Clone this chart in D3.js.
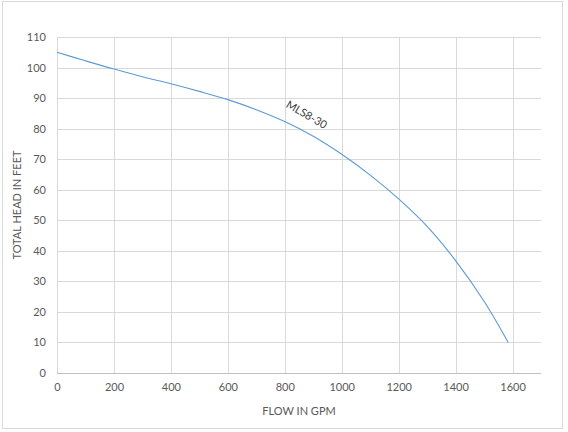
<!DOCTYPE html>
<html>
<head>
<meta charset="utf-8">
<script src="https://cdn.jsdelivr.net/npm/d3@7"></script>
<style>
  body { margin: 0; background: #fff; }
  text { font-family: Lato, "Open Sans", sans-serif; fill: #595959; }
  .grid line { stroke: #d9d9d9; stroke-width: 1; shape-rendering: crispEdges; }
</style>
</head>
<body>
<script>
// pump curve MLS8-30
var flow = [0, 100, 200, 300, 400, 500, 600, 700, 800, 900, 1000, 1100, 1200, 1300, 1400, 1500, 1585];
var head = [105, 102.2, 99.5, 97, 94.7, 92.2, 89.5, 86.2, 82.3, 77.5, 71.6, 64.8, 57, 48, 36.8, 23.5, 10];
var xTicks = [0, 200, 400, 600, 800, 1000, 1200, 1400, 1600];
var yTicks = [0, 10, 20, 30, 40, 50, 60, 70, 80, 90, 100, 110];
var seriesName = "MLS8-30";

var width = 568, height = 432;
var margin = {top: 37, right: 27, bottom: 59, left: 57};
var w = width - margin.left - margin.right,
    h = height - margin.top - margin.bottom;

var svg = d3.select("body").append("svg")
    .attr("width", width)
    .attr("height", height);

// chart border
svg.append("rect")
    .attr("x", 2.5).attr("y", 1.5)
    .attr("width", 560).attr("height", 427)
    .attr("fill", "#fff")
    .attr("stroke", "#d9d9d9");

var g = svg.append("g")
    .attr("transform", "translate(" + margin.left + "," + margin.top + ")");

var x = d3.scaleLinear().domain([0, 1700]).range([0, w]);
var y = d3.scaleLinear().domain([0, 110]).range([h, 0]);

// gridlines
g.append("g").attr("class", "grid")
  .selectAll("line").data(yTicks)
  .enter().append("line")
    .attr("x1", 0).attr("x2", w)
    .attr("y1", function(d) { return Math.round(y(d)) + 0.5; })
    .attr("y2", function(d) { return Math.round(y(d)) + 0.5; });

g.append("g").attr("class", "grid")
  .selectAll("line").data(xTicks)
  .enter().append("line")
    .attr("y1", 0).attr("y2", h)
    .attr("x1", function(d) { return Math.round(x(d)) + 0.5; })
    .attr("x2", function(d) { return Math.round(x(d)) + 0.5; });

// axes (labels only, lines handled by grid)
var xAxis = d3.axisBottom(x).tickValues(xTicks).tickFormat(d3.format("d")).tickSize(0).tickPadding(10);
var yAxis = d3.axisLeft(y).tickValues(yTicks).tickFormat(d3.format("d")).tickSize(0).tickPadding(11);

var gx = g.append("g")
    .attr("transform", "translate(0," + h + ")")
    .call(xAxis);
gx.select(".domain").attr("stroke", "#bfbfbf").attr("d", "M0,0.5H" + w);
gx.selectAll("text").style("font-size", "11px").attr("fill", "#595959");

var gy = g.append("g").call(yAxis);
gy.select(".domain").remove();
gy.selectAll("text").style("font-size", "11px").attr("fill", "#595959");

// axis titles
svg.append("text")
    .attr("x", margin.left + w / 2)
    .attr("y", 415)
    .attr("text-anchor", "middle")
    .style("font-size", "11px")
    .text("FLOW IN GPM");

svg.append("text")
    .attr("transform", "translate(21," + (margin.top + h / 2) + ") rotate(-90)")
    .attr("text-anchor", "middle")
    .style("font-size", "11px")
    .text("TOTAL HEAD IN FEET");

// curve
var pts = flow.map(function(f, i) { return [f, head[i]]; });
var line = d3.line()
    .x(function(d) { return x(d[0]); })
    .y(function(d) { return y(d[1]); })
    .curve(d3.curveCatmullRom.alpha(0.5));

g.append("path")
    .datum(pts)
    .attr("fill", "none")
    .attr("stroke", "#5b9bd5")
    .attr("stroke-width", 1.1)
    .attr("d", line);

// series label along the curve
var lx = 870, ly = 83.5;
g.append("text")
    .attr("transform", "translate(" + x(lx) + "," + y(ly) + ") rotate(30)")
    .attr("text-anchor", "middle")
    .style("font-size", "11px")
    .style("fill", "#404040")
    .text(seriesName);
</script>
</body>
</html>
